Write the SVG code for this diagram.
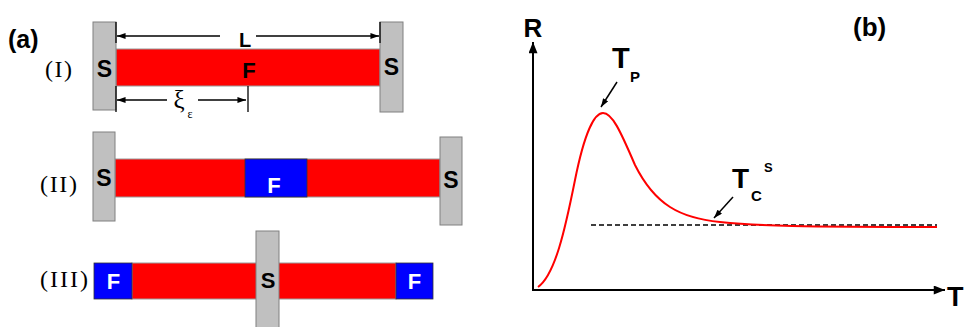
<svg xmlns="http://www.w3.org/2000/svg" width="964" height="327" viewBox="0 0 964 327">
<style>
.bold{font-family:"Liberation Sans",Arial,sans-serif;font-weight:bold;}
.serif{font-family:"Liberation Serif","Times New Roman",serif;}
.gray{fill:#c0c0c0;stroke:#808080;stroke-width:1;}
.red{fill:#ff0000;stroke:#9a9a9a;stroke-width:1;}
.blue{fill:#0000ff;stroke:#333;stroke-width:0.8;}
.dim{stroke:#000;stroke-width:1.3;fill:none;}
.axis{stroke:#000;stroke-width:2;fill:none;}
</style>
<defs>
<marker id="ah" viewBox="0 0 10 7" refX="10" refY="3.5" markerWidth="9" markerHeight="6" markerUnits="userSpaceOnUse" orient="auto-start-reverse">
<path d="M0,0 L10,3.5 L0,7 z" fill="#000"/>
</marker>
<marker id="ahb" viewBox="0 0 10 8" refX="10" refY="4" markerWidth="13" markerHeight="9" markerUnits="userSpaceOnUse" orient="auto">
<path d="M0,0 L10,4 L0,8 z" fill="#000"/>
</marker>
</defs>
<rect width="964" height="327" fill="#fff"/>

<text class="bold" x="8" y="48" font-size="25">(a)</text>
<text class="bold" x="853" y="36" font-size="26">(b)</text>

<g id="row1">
<text class="serif" x="45" y="77" font-size="24" textLength="27" lengthAdjust="spacing">(I)</text>
<rect class="red" x="116" y="49" width="264" height="37"/>
<rect class="gray" x="93" y="22" width="23" height="88"/>
<rect class="gray" x="380" y="22" width="23" height="90"/>
<text class="bold" x="104.5" y="77" font-size="23" text-anchor="middle">S</text>
<text class="bold" x="391.5" y="75" font-size="23" text-anchor="middle">S</text>
<text class="bold" x="249" y="78" font-size="22" text-anchor="middle">F</text>
</g>

<g id="dims">
<line class="dim" x1="116" y1="22" x2="116" y2="43"/>
<line class="dim" x1="380" y1="22" x2="380" y2="43"/>
<line class="dim" x1="220" y1="36" x2="117" y2="36" marker-end="url(#ah)"/>
<line class="dim" x1="256" y1="36" x2="379" y2="36" marker-end="url(#ah)"/>
<text class="bold" x="245" y="47" font-size="20" text-anchor="middle">L</text>
<line class="dim" x1="116" y1="86" x2="116" y2="112"/>
<line class="dim" x1="248" y1="86" x2="248" y2="112"/>
<line class="dim" x1="167" y1="100" x2="117" y2="100" marker-end="url(#ah)"/>
<line class="dim" x1="198" y1="100" x2="246" y2="100" marker-end="url(#ah)"/>
<text class="serif" x="179" y="108" font-size="25" text-anchor="middle">ξ</text>
<text class="serif" x="190" y="118" font-size="12" text-anchor="middle">ε</text>
</g>

<g id="row2">
<text class="serif" x="40" y="192" font-size="24" textLength="37" lengthAdjust="spacing">(II)</text>
<rect class="red" x="115" y="159" width="325" height="38"/>
<rect class="blue" x="245" y="159" width="62" height="38"/>
<rect class="gray" x="93" y="132" width="22" height="89"/>
<rect class="gray" x="440" y="137" width="22" height="88"/>
<text class="bold" x="104" y="186" font-size="23" text-anchor="middle">S</text>
<text class="bold" x="451" y="188" font-size="23" text-anchor="middle">S</text>
<text class="bold" x="274" y="193" font-size="22" text-anchor="middle" fill="#fff">F</text>
</g>

<g id="row3">
<text class="serif" x="40" y="287" font-size="24" textLength="48" lengthAdjust="spacing">(III)</text>
<rect class="red" x="132" y="263" width="264" height="36"/>
<rect class="blue" x="94" y="263" width="38" height="36"/>
<rect class="blue" x="396" y="263" width="37" height="36"/>
<rect class="gray" x="256" y="231" width="23" height="100"/>
<text class="bold" x="268" y="288" font-size="22" text-anchor="middle">S</text>
<text class="bold" x="113.5" y="289" font-size="22" text-anchor="middle" fill="#fff">F</text>
<text class="bold" x="414.5" y="289" font-size="22" text-anchor="middle" fill="#fff">F</text>
</g>

<g id="plot">
<line class="axis" x1="533" y1="290" x2="533" y2="42" marker-end="url(#ahb)"/>
<line class="axis" x1="532" y1="290" x2="945" y2="290" marker-end="url(#ahb)"/>
<text class="bold" x="533" y="37" font-size="26" text-anchor="middle">R</text>
<text class="bold" x="947" y="306" font-size="27">T</text>
<line x1="591" y1="225" x2="937" y2="225" stroke="#000" stroke-width="1.6" stroke-dasharray="5,3"/>
<path d="M538,287 C555,275 565,230 575,180 C585,130 595,113 603,113 C612,113 620,130 635,165 C655,205 680,218 720,222 C760,226 800,227 937,227" fill="none" stroke="#ff0000" stroke-width="2"/>
<text class="bold" x="612" y="68" font-size="29">T</text>
<text class="bold" x="630" y="82" font-size="15">P</text>
<line x1="617" y1="82" x2="601" y2="107" stroke="#000" stroke-width="1.5" marker-end="url(#ah)"/>
<text class="bold" x="732" y="188" font-size="28">T</text>
<text class="bold" x="751" y="201" font-size="15">C</text>
<text class="bold" x="764" y="172" font-size="13">S</text>
<line x1="733" y1="197" x2="714" y2="218" stroke="#000" stroke-width="1.5" marker-end="url(#ah)"/>
</g>
</svg>
